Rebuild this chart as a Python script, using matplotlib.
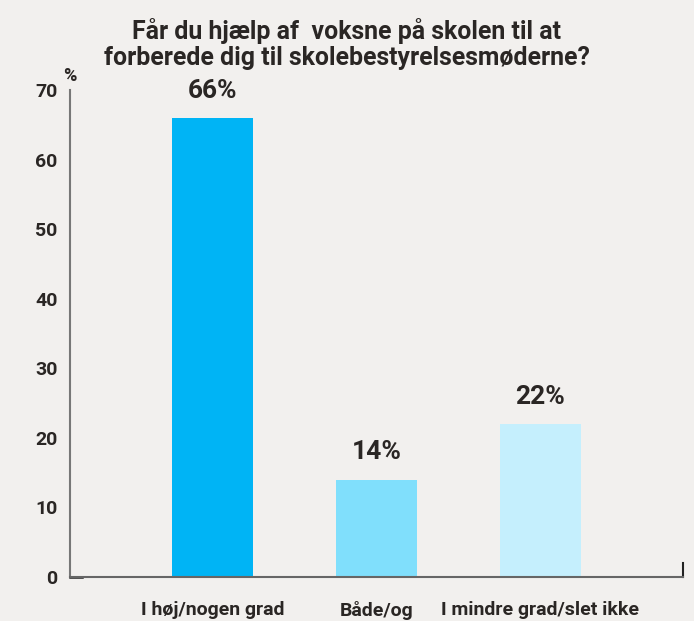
import matplotlib
matplotlib.use("Agg")
import matplotlib.pyplot as plt

categories = ["I høj/nogen grad", "Både/og", "I mindre grad/slet ikke"]
values = [66, 14, 22]
labels = ["66%", "14%", "22%"]
colors = ["#00b4f5", "#80dffc", "#c5effd"]
yticks = [0, 10, 20, 30, 40, 50, 60, 70]
title = "Får du hjælp af  voksne på skolen til at\nforberede dig til skolebestyrelsesmøderne?"

plt.rcParams['font.family'] = ['Roboto', 'DejaVu Sans']
txt = "#2a2624"
bg = "#f2f0ee"
fig = plt.figure(figsize=(6.94, 6.21), dpi=100, facecolor=bg)
ax = fig.add_axes([70/694, 1-577/621, (683-70)/694, (577-90)/621])
ax.set_facecolor(bg)

x = list(range(len(categories)))
ax.bar(x, values, width=0.495, color=colors, zorder=2)
for xi, v, lab in zip(x, values, labels):
    ax.annotate(lab, (xi, v), xytext=(0, 11), textcoords="offset points",
                ha="center", va="bottom", fontsize=19, fontweight="bold", color=txt)

ax.set_xlim(-0.872, 2.872)
ax.set_ylim(0, 70)
ax.set_yticks(yticks)
ax.set_yticklabels([str(t) for t in yticks], fontsize=14, fontweight="bold", color=txt)
ax.set_xticks(x)
ax.set_xticklabels(categories, fontsize=14, fontweight="bold", color=txt)
ax.tick_params(axis="y", length=0, pad=9)
ax.tick_params(axis="x", length=0, pad=17)

for s in ["top", "right"]:
    ax.spines[s].set_visible(False)
ax.spines["left"].set_color("#777777")
ax.spines["left"].set_linewidth(1.5)
ax.spines["bottom"].set_color("#666666")
ax.spines["bottom"].set_linewidth(1.5)
# small tick at right end
ax.plot([1, 1], [0, 0.028], transform=ax.transAxes, color="#222222", lw=1.5, clip_on=False)
ax.plot([0, 0.02], [0, 0], transform=ax.transAxes, color="#222222", lw=1.8, clip_on=False)

fig.text(70/694, 1-76/621, "%", ha="center", va="center", fontsize=13, fontweight="bold", color=txt)
fig.text(0.5, 1-44/621, title, ha="center", va="center", fontsize=17.9, fontweight="bold",
         color=txt, linespacing=1.14)

fig.savefig("out.png", dpi=100, facecolor=bg)
